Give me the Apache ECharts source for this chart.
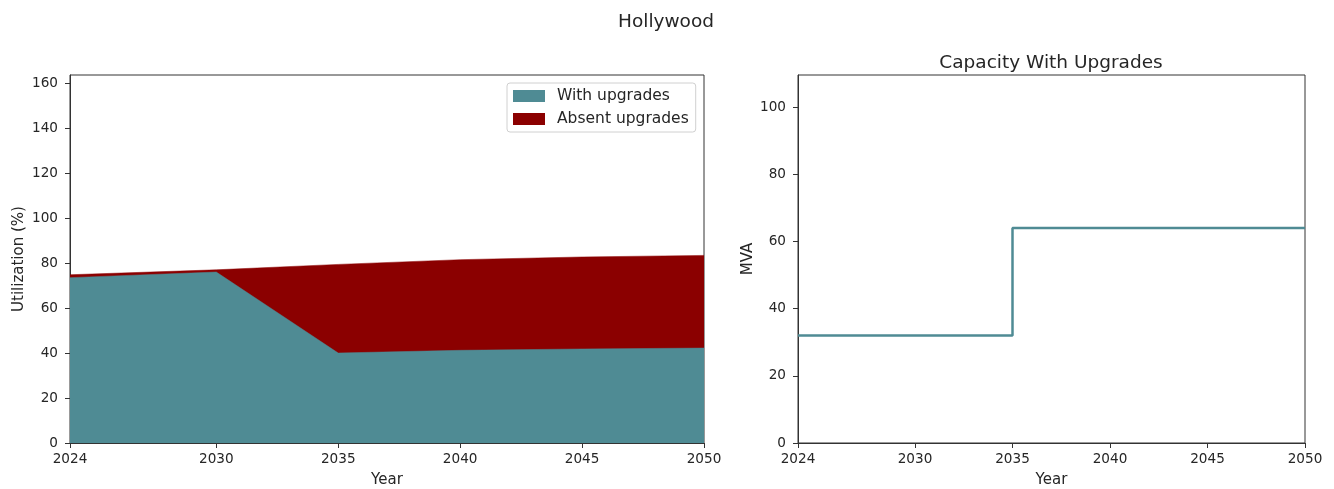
<!DOCTYPE html>
<html>
<head>
<meta charset="utf-8">
<script src="https://cdn.jsdelivr.net/npm/echarts@6/dist/echarts.min.js"></script>
<style>
  html, body { margin: 0; padding: 0; background: #ffffff; }
  #chart { width: 1334px; height: 489px; }
</style>
</head>
<body>
<div id="chart"></div>
<script>
// Planning years and utilization values (%)
const years = [2024, 2030, 2035, 2040, 2045, 2050];
const withUpgrades = [73.5, 76.0, 40.0, 41.2, 41.8, 42.2];
const absentUpgrades = [74.8, 77.0, 79.4, 81.5, 82.7, 83.4];

// Installed capacity with upgrades (MVA)
const capacityYears = [2024, 2030, 2035, 2040, 2045, 2050];
const capacityMVA = [32, 32, 64, 64, 64, 64];

// Tick labels
const yearTicks = [2024, 2030, 2035, 2040, 2045, 2050];
const utilTicks = [0, 20, 40, 60, 80, 100, 120, 140, 160];
const mvaTicks = [0, 20, 40, 60, 80, 100];

const TEAL = '#4f8b94';
const RED = '#8b0000';
const INK = '#262626';
const FONT = 'DejaVu Sans';

const pairs = (xs, ys) => xs.map((x, i) => [x, ys[i]]);

function xAxisCfg(gridIndex) {
  return {
    type: 'value', gridIndex, min: 2024, max: 2050,
    name: 'Year', nameLocation: 'middle', nameGap: 30,
    nameTextStyle: { color: INK, fontSize: 15, fontFamily: FONT },
    axisLine: { show: true, onZero: false, lineStyle: { color: '#333', width: 1 } },
    axisTick: { show: true, inside: false, length: 5, customValues: yearTicks, lineStyle: { color: '#333' } },
    axisLabel: { customValues: yearTicks, color: INK, fontSize: 13.6, fontFamily: FONT, margin: 9,
                 formatter: v => String(v), showMinLabel: true, showMaxLabel: true },
    splitLine: { show: false }
  };
}
function yAxisCfg(gridIndex, max, ticks, name, gap) {
  return {
    type: 'value', gridIndex, min: 0, max,
    name, nameLocation: 'middle', nameGap: gap, nameRotate: 90,
    nameTextStyle: { color: INK, fontSize: 15, fontFamily: FONT },
    axisLine: { show: true, lineStyle: { color: '#333', width: 1 } },
    axisTick: { show: true, inside: false, length: 5, customValues: ticks, lineStyle: { color: '#333' } },
    axisLabel: { customValues: ticks, color: INK, fontSize: 13.6, fontFamily: FONT, margin: 12,
                 formatter: v => String(v) },
    splitLine: { show: false }
  };
}

const chart = echarts.init(document.getElementById('chart'), null, { renderer: 'canvas' });
chart.setOption({
  animation: false,
  backgroundColor: '#ffffff',
  title: [
    { text: 'Hollywood', left: 661, top: 8, textAlign: 'center',
      textStyle: { color: INK, fontSize: 18.5, fontWeight: 'normal', fontFamily: FONT } },
    { text: 'Capacity With Upgrades', left: 1046, top: 49, textAlign: 'center',
      textStyle: { color: INK, fontSize: 18.5, fontWeight: 'normal', fontFamily: FONT } }
  ],
  legend: {
    data: ['With upgrades', 'Absent upgrades'],
    orient: 'vertical', left: 507, top: 83,
    padding: [5, 7, 5, 6], itemGap: 7, itemWidth: 32, itemHeight: 12,
    backgroundColor: 'rgba(255,255,255,0.8)', borderColor: '#d0d0d0', borderWidth: 1, borderRadius: 3,
    icon: 'rect',
    textStyle: { color: INK, fontSize: 15.5, fontFamily: FONT, padding: [0, 0, 0, 7] }
  },
  grid: [
    { left: 70, right: 630, top: 75, bottom: 46, outerBoundsMode: 'none', containLabel: false,
      show: true, borderColor: '#333', borderWidth: 1, backgroundColor: 'transparent' },
    { left: 798, right: 29, top: 75, bottom: 46, outerBoundsMode: 'none', containLabel: false,
      show: true, borderColor: '#333', borderWidth: 1, backgroundColor: 'transparent' }
  ],
  xAxis: [xAxisCfg(0), xAxisCfg(1)],
  yAxis: [
    yAxisCfg(0, 163.6, utilTicks, 'Utilization (%)', 43),
    yAxisCfg(1, 109.6, mvaTicks, 'MVA', 42)
  ],
  series: [
    {
      name: 'Absent upgrades', type: 'line', xAxisIndex: 0, yAxisIndex: 0,
      data: pairs(years, absentUpgrades),
      symbol: 'none', lineStyle: { width: 0.5, color: RED }, itemStyle: { color: RED },
      areaStyle: { color: RED, opacity: 1, origin: 'start' }, z: 1
    },
    {
      name: 'With upgrades', type: 'line', xAxisIndex: 0, yAxisIndex: 0,
      data: pairs(years, withUpgrades),
      symbol: 'none', lineStyle: { width: 0.5, color: TEAL }, itemStyle: { color: TEAL },
      areaStyle: { color: TEAL, opacity: 1, origin: 'start' }, z: 2
    },
    {
      name: 'Capacity', type: 'line', xAxisIndex: 1, yAxisIndex: 1,
      data: pairs(capacityYears, capacityMVA), step: 'end',
      symbol: 'none', lineStyle: { width: 2.5, color: TEAL }, itemStyle: { color: TEAL }
    }
  ]
});
</script>
</body>
</html>
